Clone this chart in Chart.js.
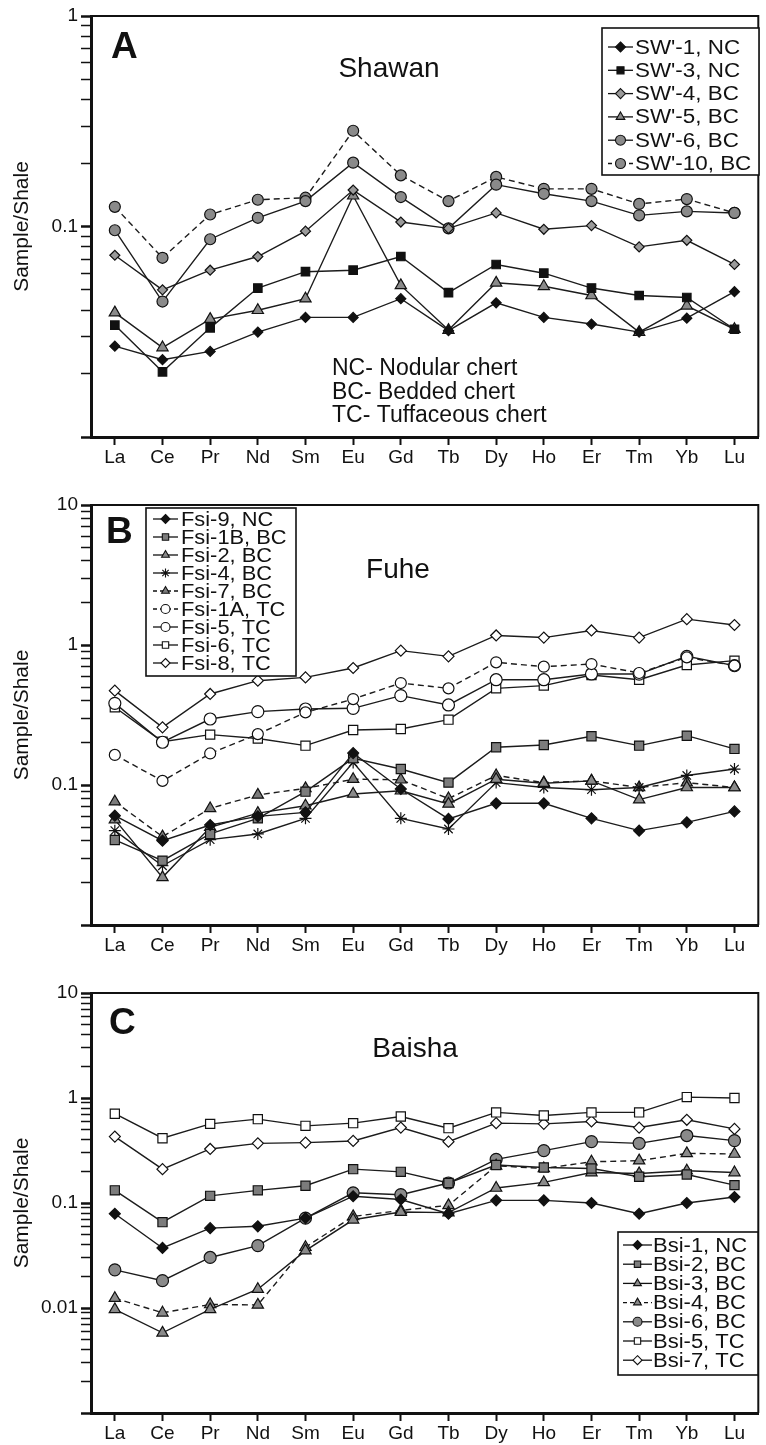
<!DOCTYPE html>
<html lang="en">
<head>
<meta charset="UTF-8" />
<title>Shale-normalized REE patterns - Shawan, Fuhe, Baisha</title>
<script src="https://cdn.jsdelivr.net/npm/chart.js"></script>
<style>
  body { margin: 0; background: #fff; width: 766px; height: 1445px; position: relative; overflow: hidden; }
  .panel { position: absolute; left: 0; width: 766px; }
  .panel canvas { display: block; }
</style>
</head>
<body>

<div class="panel" style="top:0;height:470px"><canvas id="chartA" width="766" height="470"></canvas></div>
<div class="panel" style="top:470px;height:490px"><canvas id="chartB" width="766" height="490"></canvas></div>
<div class="panel" style="top:960px;height:485px"><canvas id="chartC" width="766" height="485"></canvas></div>

<script>
// REE categories (x axis)
const ree = ['La', 'Ce', 'Pr', 'Nd', 'Sm', 'Eu', 'Gd', 'Tb', 'Dy', 'Ho', 'Er', 'Tm', 'Yb', 'Lu'];

// y tick labels per panel (only these get a number)
const yLabelsA = [1, 0.1];
const yLabelsB = [10, 1, 0.1];
const yLabelsC = [10, 1, 0.1, 0.01];

// A - Shawan
const sw1  = [0.027, 0.0233, 0.0255, 0.0315, 0.037, 0.037, 0.0454, 0.032, 0.0434, 0.037, 0.0344, 0.0315, 0.0367, 0.049];
const sw3  = [0.034, 0.0204, 0.033, 0.051, 0.061, 0.062, 0.072, 0.0485, 0.066, 0.060, 0.051, 0.047, 0.046, 0.0325];
const sw4  = [0.073, 0.050, 0.062, 0.072, 0.095, 0.149, 0.105, 0.098, 0.116, 0.097, 0.101, 0.080, 0.086, 0.066];
const sw5  = [0.039, 0.0266, 0.0363, 0.040, 0.0454, 0.14, 0.0525, 0.0322, 0.054, 0.052, 0.047, 0.0315, 0.042, 0.0325];
const sw6  = [0.096, 0.044, 0.087, 0.110, 0.132, 0.201, 0.138, 0.098, 0.158, 0.143, 0.132, 0.113, 0.118, 0.116];
const sw10 = [0.124, 0.071, 0.114, 0.134, 0.137, 0.285, 0.175, 0.132, 0.172, 0.151, 0.151, 0.128, 0.135, 0.116];

// B - Fuhe
const fsi9  = [0.0604, 0.040, 0.0518, 0.0597, 0.0638, 0.169, 0.0936, 0.0572, 0.074, 0.074, 0.0578, 0.0472, 0.0541, 0.0648];
const fsi1b = [0.0405, 0.0288, 0.0447, 0.0578, 0.0896, 0.155, 0.130, 0.104, 0.186, 0.193, 0.223, 0.191, 0.225, 0.181];
const fsi2  = [0.0566, 0.0219, 0.0499, 0.063, 0.0711, 0.0863, 0.091, 0.0732, 0.110, 0.103, 0.107, 0.0786, 0.096, 0.096];
const fsi4  = [0.0472, 0.0265, 0.0407, 0.0447, 0.0578, 0.145, 0.0578, 0.0485, 0.104, 0.096, 0.0926, 0.096, 0.117, 0.130];
const fsi7  = [0.076, 0.0428, 0.068, 0.085, 0.0946, 0.110, 0.109, 0.080, 0.117, 0.104, 0.107, 0.096, 0.104, 0.096];
const fsi1a = [0.164, 0.107, 0.168, 0.231, 0.330, 0.411, 0.535, 0.490, 0.752, 0.700, 0.731, 0.631, 0.816, 0.712];
const fsi5  = [0.383, 0.202, 0.296, 0.334, 0.349, 0.353, 0.435, 0.373, 0.565, 0.565, 0.621, 0.620, 0.830, 0.712];
const fsi6  = [0.359, 0.204, 0.229, 0.215, 0.191, 0.247, 0.251, 0.293, 0.490, 0.513, 0.610, 0.565, 0.720, 0.773];
const fsi8  = [0.472, 0.258, 0.447, 0.556, 0.587, 0.685, 0.911, 0.830, 1.17, 1.13, 1.27, 1.13, 1.53, 1.39];

// C - Baisha
const bsi1 = [0.079, 0.0373, 0.0576, 0.060, 0.0718, 0.116, 0.108, 0.079, 0.106, 0.106, 0.100, 0.079, 0.100, 0.114];
const bsi2 = [0.132, 0.0657, 0.117, 0.132, 0.146, 0.210, 0.198, 0.155, 0.230, 0.218, 0.213, 0.178, 0.187, 0.148];
const bsi3 = [0.0097, 0.0058, 0.0097, 0.0151, 0.0352, 0.0692, 0.082, 0.081, 0.139, 0.157, 0.195, 0.191, 0.203, 0.195];
const bsi4 = [0.0124, 0.0090, 0.0108, 0.0107, 0.0379, 0.0745, 0.085, 0.095, 0.226, 0.213, 0.247, 0.253, 0.297, 0.293];
const bsi6 = [0.0231, 0.0182, 0.0303, 0.0393, 0.0718, 0.125, 0.120, 0.155, 0.260, 0.315, 0.384, 0.370, 0.439, 0.393];
const bsi5 = [0.708, 0.414, 0.567, 0.629, 0.543, 0.576, 0.667, 0.516, 0.729, 0.682, 0.729, 0.729, 1.02, 1.00];
const bsi7 = [0.429, 0.210, 0.327, 0.370, 0.376, 0.390, 0.523, 0.384, 0.576, 0.567, 0.598, 0.523, 0.620, 0.508];

const FONT = '"Liberation Sans", Arial, Helvetica, sans-serif';
const INK = '#111';
const NC = '#111';      // nodular chert: black
const BC = '#8a8a8a';   // bedded chert: grey
const TC = '#ffffff';   // tuffaceous chert: white

function serie(label, data, style, fill, dashed, r) {
  return {
    label, data,
    borderColor: '#1c1c1c', borderWidth: 1.4,
    borderDash: dashed ? [6, 4] : [],
    pointStyle: style, pointRadius: r, pointHoverRadius: r,
    pointBackgroundColor: fill, pointBorderColor: INK, pointBorderWidth: 1.2,
    fill: false, tension: 0
  };
}

// marker for the hand-drawn legends
function marker(ctx, style, x, y, r, fill) {
  ctx.beginPath();
  if (style === 'circle') {
    ctx.arc(x, y, r, 0, Math.PI * 2);
  } else if (style === 'rect') {
    const s = r * Math.SQRT1_2;
    ctx.rect(x - s, y - s, 2 * s, 2 * s);
  } else if (style === 'rectRot') {
    ctx.moveTo(x, y - r); ctx.lineTo(x + r, y); ctx.lineTo(x, y + r); ctx.lineTo(x - r, y); ctx.closePath();
  } else if (style === 'triangle') {
    ctx.moveTo(x, y - r);
    ctx.lineTo(x + r * Math.sin(2 * Math.PI / 3), y - r * Math.cos(2 * Math.PI / 3));
    ctx.lineTo(x + r * Math.sin(4 * Math.PI / 3), y - r * Math.cos(4 * Math.PI / 3));
    ctx.closePath();
  } else if (style === 'star') {
    for (let k = 0; k < 4; k++) {
      const a = k * Math.PI / 4;
      ctx.moveTo(x - r * Math.cos(a), y - r * Math.sin(a));
      ctx.lineTo(x + r * Math.cos(a), y + r * Math.sin(a));
    }
  }
  if (style !== 'star') { ctx.fillStyle = fill; ctx.fill(); }
  ctx.stroke();
}

function stretchedText(ctx, str, x, y, sx) {
  ctx.save();
  ctx.translate(x, y);
  ctx.scale(sx, 1);
  ctx.fillText(str, 0, 0);
  ctx.restore();
}

// frame, panel letter, site name, notes and the boxed legend
const panelDecor = {
  id: 'panelDecor',
  afterDraw(chart, args, o) {
    const { ctx, chartArea: a } = chart;
    ctx.save();
    ctx.strokeStyle = INK;
    ctx.lineWidth = 2;
    ctx.beginPath();
    ctx.moveTo(a.left, a.top); ctx.lineTo(a.right, a.top); ctx.lineTo(a.right, a.bottom);
    ctx.stroke();

    ctx.fillStyle = INK;
    ctx.textBaseline = 'alphabetic';
    ctx.textAlign = 'left';
    ctx.font = 'bold 37px ' + FONT;
    ctx.fillText(o.letter, o.letterX, o.letterY);

    ctx.textAlign = 'center';
    ctx.font = '28px ' + FONT;
    ctx.fillText(o.title, o.titleX, o.titleY);

    if (o.notes) {
      ctx.textAlign = 'left';
      ctx.font = '23px ' + FONT;
      o.notes.forEach((t, i) => ctx.fillText(t, o.notesX, o.notesY + i * 23.5));
    }

    const L = o.legend;
    ctx.fillStyle = '#fff';
    ctx.fillRect(L.x, L.y, L.w, L.h);
    ctx.lineWidth = 1.6;
    ctx.strokeRect(L.x, L.y, L.w, L.h);
    ctx.font = L.size + 'px ' + FONT;
    ctx.textAlign = 'left';
    ctx.textBaseline = 'middle';
    chart.data.datasets.forEach((ds, i) => {
      const y = L.y + L.first + i * L.step;
      ctx.strokeStyle = INK;
      ctx.lineWidth = 1.3;
      ctx.setLineDash(ds.borderDash.length ? [4, 3] : []);
      ctx.beginPath();
      ctx.moveTo(L.x + L.seg0, y); ctx.lineTo(L.x + L.seg1, y);
      ctx.stroke();
      ctx.setLineDash([]);
      ctx.lineWidth = 1.1;
      marker(ctx, ds.pointStyle, L.x + (L.seg0 + L.seg1) / 2, y, L.r, ds.pointBackgroundColor);
      ctx.fillStyle = INK;
      stretchedText(ctx, ds.label, L.x + L.text, y + 1, L.sx);
    });
    ctx.restore();
  }
};

function isPow10(v) {
  const e = Math.log10(v);
  return Math.abs(e - Math.round(e)) < 1e-6;
}

function panelOptions(p) {
  return {
    responsive: false,
    animation: false,
    layout: { padding: { top: p.padTop, right: 1, left: 0, bottom: 0 } },
    plugins: {
      legend: { display: false },
      tooltip: { enabled: false },
      panelDecor: p.decor
    },
    scales: {
      x: {
        type: 'category',
        labels: ree,
        offset: true,
        border: { display: true, width: 3, color: INK },
        grid: { display: true, drawOnChartArea: false, offset: false, drawTicks: true, tickLength: 8, tickWidth: 2, tickColor: INK },
        ticks: { color: INK, font: { family: FONT, size: 19 }, padding: 1, maxRotation: 0, autoSkip: false },
        afterFit: s => { s.height = p.axisH; }
      },
      y: {
        type: 'logarithmic',
        min: p.yMin,
        max: p.yMax,
        border: { display: true, width: 3, color: INK },
        grid: {
          display: true, drawOnChartArea: false, drawTicks: true, tickLength: 10, tickColor: INK,
          tickWidth: c => (c.tick && isPow10(c.tick.value)) ? 2.5 : 1.5
        },
        ticks: {
          autoSkip: false, padding: 3, color: INK,
          font: { family: FONT, size: 19 },
          callback: v => {
            const hit = p.yLabels.find(t => Math.abs(t - v) / t < 1e-6);
            return hit !== undefined ? String(hit) : '';
          }
        },
        afterBuildTicks: s => {
          // drop the 1.5 x 10^n ticks the log scale adds
          s.ticks = s.ticks.filter(t => {
            const m = t.value / Math.pow(10, Math.floor(Math.log10(t.value) + 1e-9));
            return Math.abs(m - 1.5) > 1e-6;
          });
        },
        title: { display: true, text: 'Sample/Shale', color: INK, font: { family: FONT, size: 21 }, padding: { top: 10, bottom: 0 } },
        afterFit: s => { s.width = 91; }
      }
    }
  };
}

Chart.defaults.font.family = FONT;

// Panel A
new Chart(document.getElementById('chartA'), {
  type: 'line',
  data: {
    labels: ree,
    datasets: [
      serie("SW'-1, NC", sw1, 'rectRot', NC, false, 5),
      serie("SW'-3, NC", sw3, 'rect', NC, false, 6),
      serie("SW'-4, BC", sw4, 'rectRot', '#9a9a9a', false, 5),
      serie("SW'-5, BC", sw5, 'triangle', BC, false, 6.5),
      serie("SW'-6, BC", sw6, 'circle', BC, false, 5.5),
      serie("SW'-10, BC", sw10, 'circle', BC, true, 5.5)
    ]
  },
  options: panelOptions({
    yMin: 0.01, yMax: 1, yLabels: yLabelsA, padTop: 16, axisH: 33,
    decor: {
      letter: 'A', letterX: 111, letterY: 58,
      title: 'Shawan', titleX: 389, titleY: 77,
      notes: ['NC- Nodular chert', 'BC- Bedded chert', 'TC- Tuffaceous chert'], notesX: 332, notesY: 375,
      legend: { x: 602, y: 28, w: 157, h: 147, first: 19, step: 23.3, seg0: 6, seg1: 31, text: 33, size: 20, sx: 1.12, r: 5 }
    }
  }),
  plugins: [panelDecor]
});

// Panel B
new Chart(document.getElementById('chartB'), {
  type: 'line',
  data: {
    labels: ree,
    datasets: [
      serie('Fsi-9, NC', fsi9, 'rectRot', NC, false, 5.5),
      serie('Fsi-1B, BC', fsi1b, 'rect', '#7c7c7c', false, 6.5),
      serie('Fsi-2, BC', fsi2, 'triangle', BC, false, 6.5),
      serie('Fsi-4, BC', fsi4, 'star', NC, false, 6),
      serie('Fsi-7, BC', fsi7, 'triangle', '#7c7c7c', true, 6.5),
      serie('Fsi-1A, TC', fsi1a, 'circle', TC, true, 5.5),
      serie('Fsi-5, TC', fsi5, 'circle', TC, false, 6),
      serie('Fsi-6, TC', fsi6, 'rect', TC, false, 6.5),
      serie('Fsi-8, TC', fsi8, 'rectRot', TC, false, 5.5)
    ]
  },
  options: panelOptions({
    yMin: 0.01, yMax: 10, yLabels: yLabelsB, padTop: 35, axisH: 35,
    decor: {
      letter: 'B', letterX: 106, letterY: 73,
      title: 'Fuhe', titleX: 398, titleY: 108,
      legend: { x: 146, y: 38, w: 150, h: 168, first: 11, step: 18, seg0: 7, seg1: 32, text: 35, size: 21, sx: 1.04, r: 4.5 }
    }
  }),
  plugins: [panelDecor]
});

// Panel C
new Chart(document.getElementById('chartC'), {
  type: 'line',
  data: {
    labels: ree,
    datasets: [
      serie('Bsi-1, NC', bsi1, 'rectRot', NC, false, 5.5),
      serie('Bsi-2, BC', bsi2, 'rect', '#7c7c7c', false, 6.5),
      serie('Bsi-3, BC', bsi3, 'triangle', BC, false, 6.5),
      serie('Bsi-4, BC', bsi4, 'triangle', BC, true, 6.5),
      serie('Bsi-6, BC', bsi6, 'circle', BC, false, 6),
      serie('Bsi-5, TC', bsi5, 'rect', TC, false, 6.5),
      serie('Bsi-7, TC', bsi7, 'rectRot', TC, false, 5.5)
    ]
  },
  options: panelOptions({
    yMin: 0.001, yMax: 10, yLabels: yLabelsC, padTop: 33, axisH: 32,
    decor: {
      letter: 'C', letterX: 109, letterY: 74,
      title: 'Baisha', titleX: 415, titleY: 97,
      legend: { x: 618, y: 272, w: 140, h: 143, first: 13, step: 19.2, seg0: 5, seg1: 34, text: 35, size: 20, sx: 1.1, r: 4.5 }
    }
  }),
  plugins: [panelDecor]
});
</script>
</body>
</html>
